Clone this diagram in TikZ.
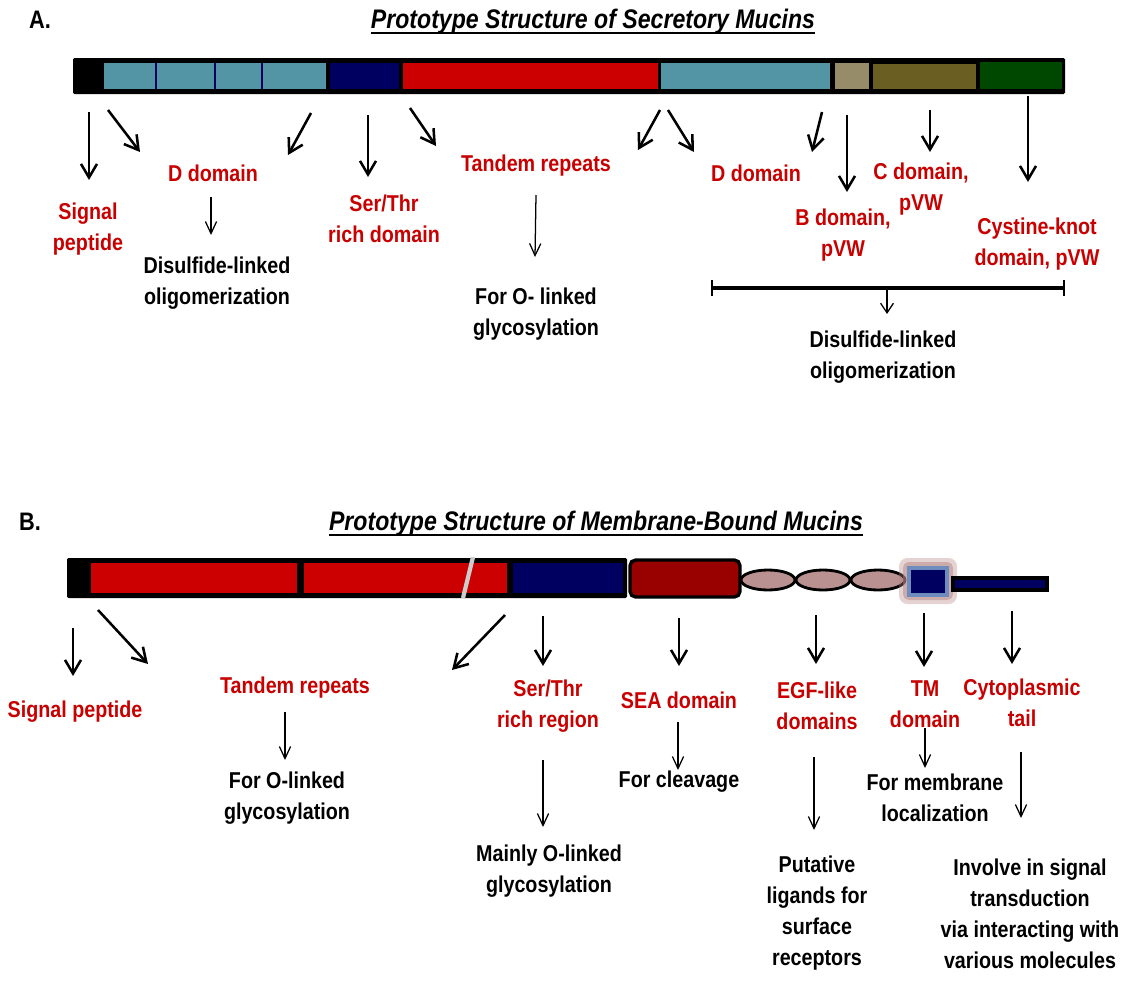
\documentclass[tikz,border=0pt]{standalone}
\usepackage{fontspec}
\setmainfont[FakeStretch=0.86]{Liberation Sans}
\usepackage{tikz}
\usetikzlibrary{arrows.meta}
\usetikzlibrary{positioning}
\definecolor{lblred}{RGB}{200,0,0}
\definecolor{barred}{RGB}{204,0,0}
\definecolor{tealseg}{RGB}{84,149,165}
\definecolor{navyseg}{RGB}{0,0,96}
\definecolor{khakiseg}{RGB}{150,140,105}
\definecolor{oliveseg}{RGB}{106,94,34}
\definecolor{greenseg}{RGB}{0,72,0}
\definecolor{seared}{RGB}{153,0,0}
\definecolor{egfpink}{RGB}{185,145,145}
\definecolor{tmrim}{RGB}{110,140,190}
\definecolor{tmglow}{RGB}{180,130,130}
\newcommand{\labelfont}{\fontsize{16.3}{22}\selectfont\bfseries}
\newcommand{\headfont}{\fontsize{19.1}{22}\selectfont\bfseries\itshape}
\tikzset{
bigarr/.style = {line width = 1.8pt, -{Straight Barb[length = 3.4mm, width = 4mm]}},
smallarr/.style = {line width = 0.9pt, -{Straight Barb[length = 3mm, width = 2.8mm]}},
domlabel/.style = {text = lblred, font = \labelfont, align = center, inner sep = 0pt},
funlabel/.style = {text = black, font = \labelfont, align = center, inner sep = 0pt},
headline/.style = {font = \headfont, inner sep = 0pt, anchor = base},
}

\begin{document}
\begin{tikzpicture}[x = 0.025cm, y = -0.025cm]
    \useasboundingbox (0, 0) rectangle (1133, 981);
    % A. secretory mucins
    \node[font = \fontsize{18}{22}\selectfont\bfseries, inner sep = 0pt] (labA) at (40, 20) {A.};
    \node[headline] (headA) at (593, 28) {Prototype Structure of Secretory Mucins};
    \draw[line width = 1.8pt] ([yshift = -1.3mm]headA.base west) -- ([yshift = -1.3mm]headA.base east);
    \fill[black, rounded corners = 1pt] (73, 58) rectangle (1065, 94);
    \fill[tealseg] (104, 63) rectangle (326, 89);
    \draw[navyseg, line width = 1pt] (156, 63) -- (156, 89) (215, 63) -- (215, 89) (262, 63) -- (262, 89);
    \fill[navyseg] (330, 63) rectangle (399, 89);
    \fill[barred] (403, 63) rectangle (658, 89);
    \fill[tealseg] (661, 63) rectangle (830, 89);
    \fill[khakiseg] (835, 63) rectangle (869, 89);
    \fill[oliveseg] (873, 64) rectangle (976, 89);
    \fill[greenseg] (980, 62) rectangle (1062, 89);
    \node[domlabel] (sigA) at (88, 229) {Signal\\peptide};
    \node[domlabel] (dA) at (213, 173) {D domain};
    \node[domlabel] (stA) at (384, 219) {Ser/Thr\\rich domain};
    \node[domlabel] (trA) at (536, 166) {Tandem repeats};
    \node[domlabel] (dtwoA) at (756, 173) {D domain};
    \node[domlabel] (bA) at (843, 235) {B domain,\\pVW};
    \node[domlabel] (cA) at (921, 189) {C domain,\\pVW};
    \node[domlabel] (ckA) at (1037, 244) {Cystine-knot\\domain, pVW};
    \node[funlabel] (disA) at (217, 283) {Disulfide-linked\\oligomerization};
    \node[funlabel] (olA) at (536, 314) {For O- linked\\glycosylation};
    \node[funlabel] (distwoA) at (883, 357) {Disulfide-linked\\oligomerization};
    \coordinate (a1s) at (89, 112); \coordinate (a1e) at (89, 180);
    \coordinate (a2s) at (108, 110); \coordinate (a2e) at (140, 152);
    \coordinate (a3s) at (311, 113); \coordinate (a3e) at (288, 155);
    \coordinate (a4s) at (368, 115); \coordinate (a4e) at (368, 177);
    \coordinate (a5s) at (410, 108); \coordinate (a5e) at (436, 146);
    \coordinate (a6s) at (660, 110); \coordinate (a6e) at (638, 150);
    \coordinate (a7s) at (668, 110); \coordinate (a7e) at (694, 152);
    \coordinate (a8s) at (822, 112); \coordinate (a8e) at (812, 152);
    \coordinate (a9s) at (847, 115); \coordinate (a9e) at (847, 192);
    \coordinate (a10s) at (930, 110); \coordinate (a10e) at (930, 152);
    \coordinate (a11s) at (1028, 96); \coordinate (a11e) at (1028, 182);
    \foreach \i in {1, ..., 11}
        \draw[bigarr] (a\i s) -- (a\i e);
    \coordinate (d1s) at (211, 197); \coordinate (d1e) at (211, 235);
    \coordinate (d2s) at (536, 195); \coordinate (d2e) at (535, 257);
    \draw[smallarr] (d1s) -- (d1e);
    \draw[smallarr] (d2s) -- (d2e);
    \coordinate (brl) at (712, 288); \coordinate (brr) at (1064, 288); \coordinate (brm) at (887, 288);
    \draw[line width = 2.2pt] (brl) -- (brr);
    \draw[line width = 1.2pt] ([yshift = 2mm]brl) -- ([yshift = -2mm]brl) ([yshift = 2mm]brr) -- ([yshift = -2mm]brr);
    \draw[smallarr, -{Straight Barb[length = 2.4mm, width = 3.2mm]}] (brm) -- (887, 314);
    % B. membrane-bound mucins
    \node[font = \fontsize{18}{22}\selectfont\bfseries, inner sep = 0pt] (labB) at (30, 522) {B.};
    \node[headline] (headB) at (596, 530) {Prototype Structure of Membrane-Bound Mucins};
    \draw[line width = 1.8pt] ([yshift = -1.3mm]headB.base west) -- ([yshift = -1.3mm]headB.base east);
    \fill[black, rounded corners = 1pt] (67, 558) rectangle (627, 598);
    \fill[barred] (91, 563) rectangle (297, 593);
    \fill[barred] (304, 563) rectangle (507, 593);
    \fill[navyseg] (513, 563) rectangle (623, 593);
    \draw[black!20, line width = 3pt] (473, 557) -- (463, 598);
    \draw[seared, line width = 0pt, fill = seared, rounded corners = 4pt] (630, 560) rectangle (740, 597);
    \draw[black, line width = 2.4pt, rounded corners = 4pt] (630, 560) rectangle (740, 597);
    \draw[black, line width = 2pt, fill = egfpink] (768, 580) ellipse [x radius = 27, y radius = 10];
    \draw[black, line width = 2pt, fill = egfpink] (823, 580) ellipse [x radius = 27, y radius = 10];
    \draw[black, line width = 2pt, fill = egfpink] (878, 580) ellipse [x radius = 27, y radius = 10];
    \fill[tmglow, opacity = 0.35, rounded corners = 6pt] (899, 558) rectangle (957, 604);
    \fill[tmglow, opacity = 0.5, rounded corners = 4pt] (903, 562) rectangle (953, 600);
    \draw[tmrim, line width = 2.2pt, fill = navyseg] (909, 568) rectangle (947, 595);
    \draw[black, line width = 2.2pt, fill = navyseg] (953, 578) rectangle (1047, 590);
    \node[domlabel] (sigB) at (75, 712) {Signal peptide};
    \node[domlabel] (trB) at (295, 688) {Tandem repeats};
    \node[domlabel] (stB) at (548, 706) {Ser/Thr\\rich region};
    \node[domlabel] (seaB) at (679, 700) {SEA domain};
    \node[domlabel] (egfB) at (817, 706) {EGF-like\\domains};
    \node[domlabel] (tmB) at (925, 704) {TM\\domain};
    \node[domlabel] (cytB) at (1022, 703) {Cytoplasmic\\tail};
    \node[funlabel] (olB) at (287, 798) {For O-linked\\glycosylation};
    \node[funlabel] (mainB) at (549, 871) {Mainly O-linked\\glycosylation};
    \node[funlabel] (clvB) at (679, 782) {For cleavage};
    \node[funlabel] (putB) at (817, 913) {Putative\\ligands for\\surface\\receptors};
    \node[funlabel] (memB) at (935, 798) {For membrane\\localization};
    \node[funlabel] (invB) at (1030, 914) {Involve in signal\\transduction\\via interacting with\\various molecules};
    \coordinate (b1s) at (73, 628); \coordinate (b1e) at (73, 676);
    \coordinate (b2s) at (98, 610); \coordinate (b2e) at (148, 664);
    \coordinate (b3s) at (505, 615); \coordinate (b3e) at (452, 670);
    \coordinate (b4s) at (543, 616); \coordinate (b4e) at (543, 666);
    \coordinate (b5s) at (679, 618); \coordinate (b5e) at (679, 666);
    \coordinate (b6s) at (816, 615); \coordinate (b6e) at (816, 664);
    \coordinate (b7s) at (924, 613); \coordinate (b7e) at (924, 667);
    \coordinate (b8s) at (1012, 611); \coordinate (b8e) at (1012, 664);
    \foreach \i in {1, ..., 8}
        \draw[bigarr] (b\i s) -- (b\i e);
    \coordinate (e1s) at (285, 712); \coordinate (e1e) at (285, 760);
    \coordinate (e2s) at (543, 760); \coordinate (e2e) at (543, 827);
    \coordinate (e3s) at (678, 722); \coordinate (e3e) at (678, 770);
    \coordinate (e4s) at (814, 757); \coordinate (e4e) at (814, 830);
    \coordinate (e5s) at (925, 728); \coordinate (e5e) at (925, 768);
    \coordinate (e6s) at (1021, 752); \coordinate (e6e) at (1021, 818);
    \foreach \i in {1, ..., 6}
        \draw[smallarr] (e\i s) -- (e\i e);
\end{tikzpicture}
\end{document}
